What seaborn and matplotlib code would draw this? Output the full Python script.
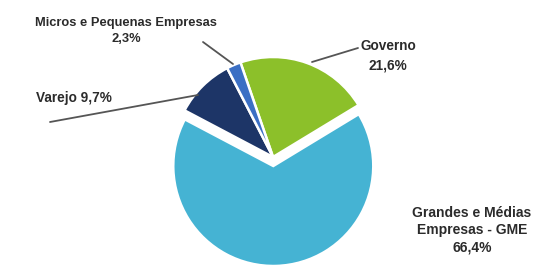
import numpy as np
import pandas as pd
import matplotlib.pyplot as plt
import seaborn as sns

# dados do gráfico
setores = ['Governo', 'Grandes e Médias\nEmpresas - GME', 'Varejo', 'Micros e Pequenas Empresas']
valores = [21.6, 66.4, 9.7, 2.3]
rotulos_pct = ['21,6%', '66,4%', '9,7%', '2,3%']
cores = ['#8cc02a', '#45b3d3', '#1d3567', '#3b6fc4']

sns.set_theme(style='white')
plt.rcParams['font.family'] = ['Liberation Sans', 'DejaVu Sans']

W, H = 535, 267
fig = plt.figure(figsize=(W / 100, H / 100), dpi=100)
ax = fig.add_axes([0, 0, 1, 1])

cx, cy, r = 273, 157, 100
# explode em unidades de dados (raio = 100)
wedges, _ = ax.pie(valores, colors=cores, startangle=109, counterclock=False,
                   explode=[0, 9, 0, 0], center=(cx, H - cy), radius=r,
                   wedgeprops=dict(edgecolor='white', linewidth=1.8))

ax.set_xlim(0, W)
ax.set_ylim(0, H)
ax.set_aspect('equal')
ax.axis('off')

fs = 9.3
def rotulo(x, y, txt, ls=1.45, size=fs):
    ax.text(x, H - y, txt, fontsize=size, fontweight='bold', color='#2b2b2b',
            ha='center', va='center', linespacing=ls)

def linha(x0, y0, x1, y1):
    ax.plot([x0, x1], [H - y0, H - y1], color='#555555', lw=1.3)

rotulo(126, 31, setores[3] + '\n' + rotulos_pct[3])
linha(203, 42, 233, 64)
rotulo(74, 98, setores[2] + ' ' + rotulos_pct[2], size=9.8)
linha(50, 122, 198, 95)
rotulo(388, 56, setores[0] + '\n' + rotulos_pct[0], ls=1.5, size=9.8)
linha(312, 62, 358, 48)
rotulo(472, 230, setores[1] + '\n' + rotulos_pct[1], ls=1.3, size=10)

fig.savefig('out.png', dpi=100)
